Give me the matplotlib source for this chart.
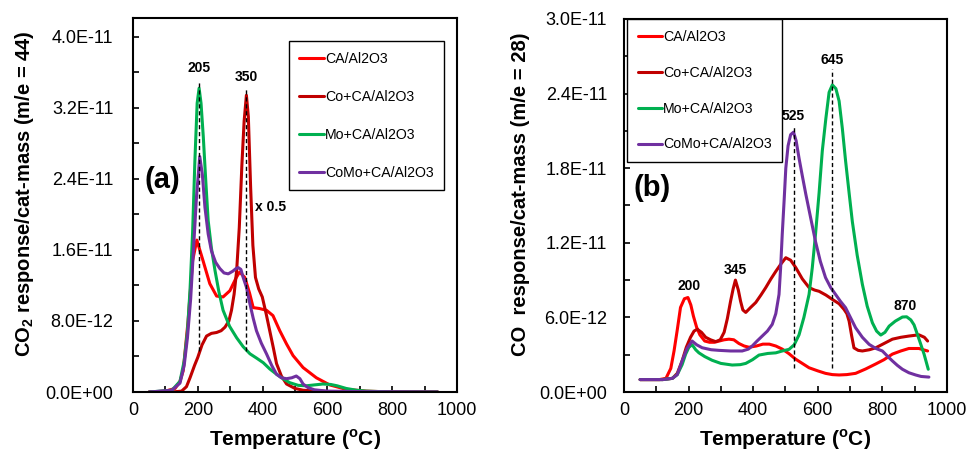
import matplotlib
matplotlib.use("Agg")
import matplotlib.pyplot as plt
from matplotlib.ticker import MultipleLocator, FuncFormatter

plt.rcParams['font.family'] = ['Liberation Sans', 'DejaVu Sans']
plt.rcParams['mathtext.fontset'] = 'custom'
plt.rcParams['mathtext.rm'] = 'Liberation Sans'
plt.rcParams['mathtext.bf'] = 'Liberation Sans:bold'

E = 1e-12
names = ['CA/Al2O3', 'Co+CA/Al2O3', 'Mo+CA/Al2O3', 'CoMo+CA/Al2O3']
colors = ['#FF0000', '#C00000', '#00B050', '#7030A0']

# ---- CO2 signal (m/e = 44), Co+CA curve shown x 0.5 ----
co2_ca_t = [50, 100, 130, 145, 155, 170, 184, 197, 216, 237, 258, 278, 299, 319, 329, 345, 360, 371,
            390, 412, 432, 453, 474, 494, 525, 566, 607, 658, 720, 800, 940]
co2_ca_v = [0.0, 0.1, 0.4, 1.2, 2.4, 8.0, 14.8, 17.1, 14.8, 12.2, 10.8, 10.7, 11.4, 12.9, 13.5, 12.9, 11.1, 9.5,
            9.4, 9.2, 8.6, 6.9, 5.4, 4.1, 2.75, 1.6, 0.8, 0.3, 0.1, 0.0, 0.0]

co2_co_t = [50, 120, 150, 165, 176, 190, 200, 213, 227, 242, 258, 272, 284, 296, 304, 312, 320, 328, 336, 343,
            350, 356, 363, 370, 378, 388, 399, 411, 422, 433, 443, 458, 474, 500, 525, 600, 940]
co2_co_v = [0.0, 0.0, 0.1, 0.6, 1.6, 3.0, 3.9, 5.3, 6.3, 6.6, 6.7, 6.9, 7.3, 8.0, 9.2, 11.0, 13.7, 18.5, 25.5, 30.5,
            33.4, 31.0, 23.1, 16.5, 12.9, 11.6, 10.7, 8.8, 6.9, 5.0, 3.2, 1.8, 0.9, 0.4, 0.2, 0.05, 0.0]

co2_mo_t = [50, 120, 145, 158, 168, 176, 184, 191, 198, 204, 210, 217, 225, 232, 242, 253, 265, 278, 298, 320,
            340, 361, 382, 402, 422, 443, 463, 484, 510, 535, 560, 586, 610, 630, 658, 690, 720, 800, 940]
co2_mo_v = [0.0, 0.2, 1.2, 3.5, 6.8, 11.5, 18.0, 26.0, 32.5, 34.2, 32.5, 28.7, 23.5, 19.3, 16.2, 13.7, 11.3, 9.2,
            7.4, 6.1, 5.1, 4.3, 3.8, 3.3, 2.6, 2.0, 1.5, 1.05, 0.75, 0.7, 0.8, 0.9, 0.85, 0.7, 0.4, 0.2, 0.1, 0.0, 0.0]

co2_como_t = [50, 120, 145, 158, 168, 178, 186, 196, 206, 214, 222, 232, 242, 255, 268, 281, 294, 308, 318, 325,
              333, 340, 350, 361, 371, 381, 396, 412, 428, 443, 458, 474, 490, 504, 515, 525, 540, 560, 600, 700, 940]
co2_como_v = [0.0, 0.2, 1.0, 3.0, 6.1, 10.5, 15.6, 22.0, 26.5, 24.5, 20.8, 17.8, 15.9, 14.6, 13.9, 13.4, 13.3, 13.6,
              13.9, 14.0, 13.8, 12.9, 11.8, 9.9, 8.3, 6.9, 5.5, 4.3, 3.0, 2.0, 1.6, 1.5, 1.6, 1.8, 1.5, 0.9, 0.5,
              0.25, 0.1, 0.05, 0.0]

# ---- CO signal (m/e = 28) ----
co_ca_t = [50, 110, 130, 145, 155, 165, 175, 187, 198, 207, 215, 225, 235, 250, 265, 280, 295, 310, 325, 340,
           356, 372, 387, 410, 430, 450, 470, 490, 510, 531, 552, 573, 600, 624, 645, 666, 690, 717, 748, 779,
           805, 831, 857, 882, 913, 940]
co_ca_v = [1.0, 1.0, 1.1, 1.9, 3.3, 5.0, 6.8, 7.5, 7.6, 7.0, 6.1, 5.2, 4.6, 4.1, 4.0, 4.0, 4.1, 4.2, 4.25, 4.2,
           3.9, 3.7, 3.6, 3.7, 3.85, 3.85, 3.7, 3.45, 3.1, 2.65, 2.3, 1.95, 1.7, 1.5, 1.4, 1.37, 1.4, 1.5, 1.85, 2.25,
           2.6, 3.05, 3.3, 3.5, 3.5, 3.3]

co_co_t = [50, 120, 150, 165, 180, 193, 206, 217, 227, 240, 253, 268, 284, 298, 310, 320, 330, 338, 345, 354,
           361, 368, 377, 392, 408, 424, 439, 455, 470, 486, 501, 516, 532, 552, 573, 590, 604, 625, 645, 666,
           681, 690, 697, 705, 712, 725, 738, 760, 779, 805, 831, 857, 882, 913, 930, 940]
co_co_v = [1.0, 1.0, 1.1, 1.5, 2.5, 3.6, 4.4, 4.9, 5.05, 4.8, 4.4, 4.2, 4.05, 4.2, 4.8, 5.9, 7.3, 8.3, 9.0, 8.2,
           7.3, 6.6, 6.4, 6.8, 7.2, 7.8, 8.4, 9.1, 9.7, 10.3, 10.8, 10.6, 10.0, 9.1, 8.4, 8.2, 8.1, 7.8, 7.45, 7.1,
           6.65, 6.3, 5.7, 4.5, 3.55, 3.35, 3.3, 3.4, 3.55, 3.9, 4.25, 4.4, 4.5, 4.6, 4.4, 4.1]

co_mo_t = [50, 120, 150, 165, 180, 191, 201, 211, 222, 232, 250, 273, 300, 335, 360, 377, 398, 418, 445, 470,
           490, 511, 527, 542, 557, 573, 583, 593, 604, 614, 625, 635, 645, 656, 666, 676, 686, 697, 707, 722,
           738, 753, 769, 782, 795, 808, 821, 840, 862, 875, 888, 898, 908, 918, 929, 942]
co_mo_v = [1.0, 1.0, 1.1, 1.4, 2.2, 3.05, 3.6, 3.8, 3.4, 3.15, 2.85, 2.55, 2.3, 2.17, 2.2, 2.3, 2.6, 2.97, 3.1, 3.15,
           3.3, 3.43, 3.8, 4.6, 6.0, 7.85, 10.0, 12.7, 16.0, 19.4, 22.0, 24.1, 24.7, 24.4, 23.4, 21.2, 18.6, 16.0,
           13.7, 11.0, 8.66, 6.9, 5.57, 4.9, 4.58, 4.8, 5.3, 5.7, 6.03, 6.05, 5.8, 5.4, 4.66, 3.9, 3.05, 1.83]

co_como_t = [50, 120, 150, 165, 180, 195, 211, 225, 242, 270, 294, 330, 366, 385, 397, 412, 428, 444, 459, 470,
             480, 485, 490, 496, 501, 508, 516, 525, 533, 542, 552, 563, 578, 593, 608, 624, 640, 655, 670, 686,
             701, 717, 738, 759, 780, 800, 815, 831, 846, 862, 882, 903, 920, 944]
co_como_v = [1.0, 1.0, 1.1, 1.4, 2.5, 3.5, 4.1, 3.8, 3.56, 3.4, 3.35, 3.3, 3.3, 3.45, 3.7, 4.1, 4.5, 4.9, 5.44, 6.3,
             7.85, 10.0, 12.7, 15.5, 18.0, 19.8, 20.7, 20.9, 20.2, 18.8, 17.4, 15.9, 14.0, 12.1, 10.5, 9.2, 8.4,
             7.85, 7.3, 6.78, 6.0, 5.17, 4.4, 3.83, 3.5, 3.3, 2.9, 2.5, 2.15, 1.83, 1.55, 1.37, 1.25, 1.2]

# peak markers: (temperature, dashed bottom, dashed top, label y)
co2_peaks = [(205, 4.6, 35.0, 36.5), (350, 4.6, 34.2, 35.5)]
co_peaks = [(200, None, None, 8.5), (345, None, None, 9.8), (525, 1.95, 21.5, 22.2),
            (645, 1.95, 26.0, 26.7), (870, None, None, 6.9)]

fig = plt.figure(figsize=(9.68, 4.51), dpi=100)
ax1 = fig.add_axes([0.1374, 0.1308, 0.3347, 0.8293])
ax2 = fig.add_axes([0.6446, 0.1308, 0.3337, 0.8271])

co2_series = [(co2_ca_t, co2_ca_v), (co2_co_t, co2_co_v), (co2_mo_t, co2_mo_v), (co2_como_t, co2_como_v)]
co_series = [(co_ca_t, co_ca_v), (co_co_t, co_co_v), (co_mo_t, co_mo_v), (co_como_t, co_como_v)]

for ax, series in [(ax1, co2_series), (ax2, co_series)]:
    for (t, v), name, c in zip(series, names, colors):
        ax.plot(t, [y * E for y in v], color=c, lw=2.2, label=name, solid_capstyle='round')

for t, lo, hi, ly in co2_peaks:
    ax1.plot([t, t], [lo * E, hi * E], color='black', lw=1.0, dashes=(3, 2))
    ax1.text(t, ly * E, str(t), ha='center', va='center', fontsize=10, fontweight='bold')
for t, lo, hi, ly in co_peaks:
    if lo is not None:
        ax2.plot([t, t], [lo * E, hi * E], color='black', lw=1.0, dashes=(3, 2))
    ax2.text(t, ly * E, str(t), ha='center', va='center', fontsize=10, fontweight='bold', zorder=5)

ax1.text(376, 20.8 * E, 'x 0.5', ha='left', va='center', fontsize=10, fontweight='bold')
ax1.text(92, 23.9 * E, '(a)', ha='center', va='center', fontsize=21, fontweight='bold')
ax2.text(87, 16.4 * E, '(b)', ha='center', va='center', fontsize=21, fontweight='bold')

sci = FuncFormatter(lambda v, p: f"{v:.1E}")
for ax, ytop, ystep, ypad in [(ax1, 4.21e-11, 8e-12, 14), (ax2, 3.0e-11, 6e-12, 12)]:
    ax.set_xlim(0, 1000)
    ax.set_ylim(0, ytop)
    ax.xaxis.set_major_locator(MultipleLocator(200))
    ax.xaxis.set_minor_locator(MultipleLocator(100))
    ax.yaxis.set_major_locator(MultipleLocator(ystep))
    ax.yaxis.set_minor_locator(MultipleLocator(ystep / 2))
    ax.yaxis.set_major_formatter(sci)
    ax.tick_params(which='both', direction='in', length=4, width=1.2, labelsize=13)
    ax.tick_params(axis='x', which='major', pad=7)
    ax.tick_params(axis='y', which='major', pad=ypad)
    for s in ax.spines.values():
        s.set_linewidth(1.5)
    ax.set_xlabel(r'Temperature ($^\mathbf{o}$C)', fontsize=15, fontweight='bold', labelpad=6)

ax1.set_ylabel(r'CO$_\mathbf{2}$ response/cat-mass (m/e = 44)', fontsize=14.5, fontweight='bold')
ax2.set_ylabel('CO  response/cat-mass (m/e = 28)', fontsize=14.5, fontweight='bold')
ax1.yaxis.set_label_coords(-0.300, 0.53)
ax2.yaxis.set_label_coords(-0.292, 0.53)

for ax, anchor, spacing in [(ax1, (0.481, 0.9385), 1.7), (ax2, (0.009, 1.0), 1.55)]:
    leg = ax.legend(loc='upper left', bbox_to_anchor=anchor, fontsize=10.2, frameon=True, fancybox=False,
                    framealpha=1, edgecolor='black', handlelength=1.75, handletextpad=0.05,
                    labelspacing=spacing, borderpad=0.75, borderaxespad=0)
    leg.get_frame().set_linewidth(1.0)

fig.savefig('out.png', dpi=100)
